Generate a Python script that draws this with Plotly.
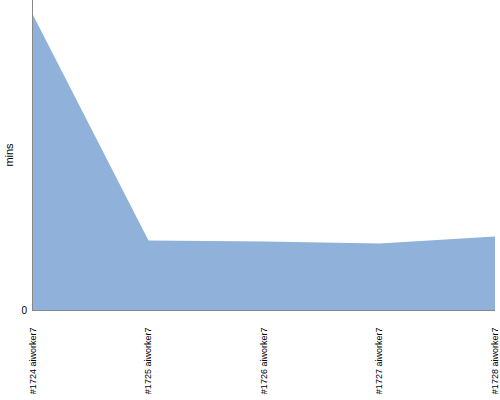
import plotly.graph_objects as go

# builds and their durations (mins)
builds = ['#1724 aiworker7', '#1725 aiworker7', '#1726 aiworker7', '#1727 aiworker7', '#1728 aiworker7']
mins = [29.5, 6.95, 6.85, 6.65, 7.35]

FILL = '#8FB1DA'

fig = go.Figure(go.Scatter(
    x=builds, y=mins,
    mode='lines',
    fill='tozeroy',
    fillcolor=FILL,
    line=dict(color=FILL, width=0),
    hoverinfo='x+y'
))

fig.update_layout(
    width=500, height=400,
    paper_bgcolor='white', plot_bgcolor='white',
    margin=dict(l=33, r=5, t=0, b=90),
    showlegend=False,
    font=dict(family='Liberation Sans', size=9, color='#000'),
    xaxis=dict(
        automargin=False,
        showgrid=False, zeroline=False,
        showline=True, linecolor='#888', linewidth=1,
        tickangle=-90, ticks='outside', ticklen=13, tickcolor='rgba(0,0,0,0)',
        tickfont=dict(size=9, color='#000'),
        range=[0, 4]
    ),
    yaxis=dict(
        automargin=False,
        showgrid=False, zeroline=False,
        showline=True, linecolor='#888', linewidth=1,
        range=[0, 31], tickvals=[0], ticktext=['0'],
        ticks='outside', ticklen=3, tickcolor='rgba(0,0,0,0)',
        tickfont=dict(size=10, color='#000'),
        title=dict(text='mins', font=dict(size=11, color='#000'), standoff=5)
    )
)

# drop the browser's default body margin so the chart sits at the page corner
fig.write_html("out.html", config={'displayModeBar': False},
               post_script="document.body.style.margin='0';")
